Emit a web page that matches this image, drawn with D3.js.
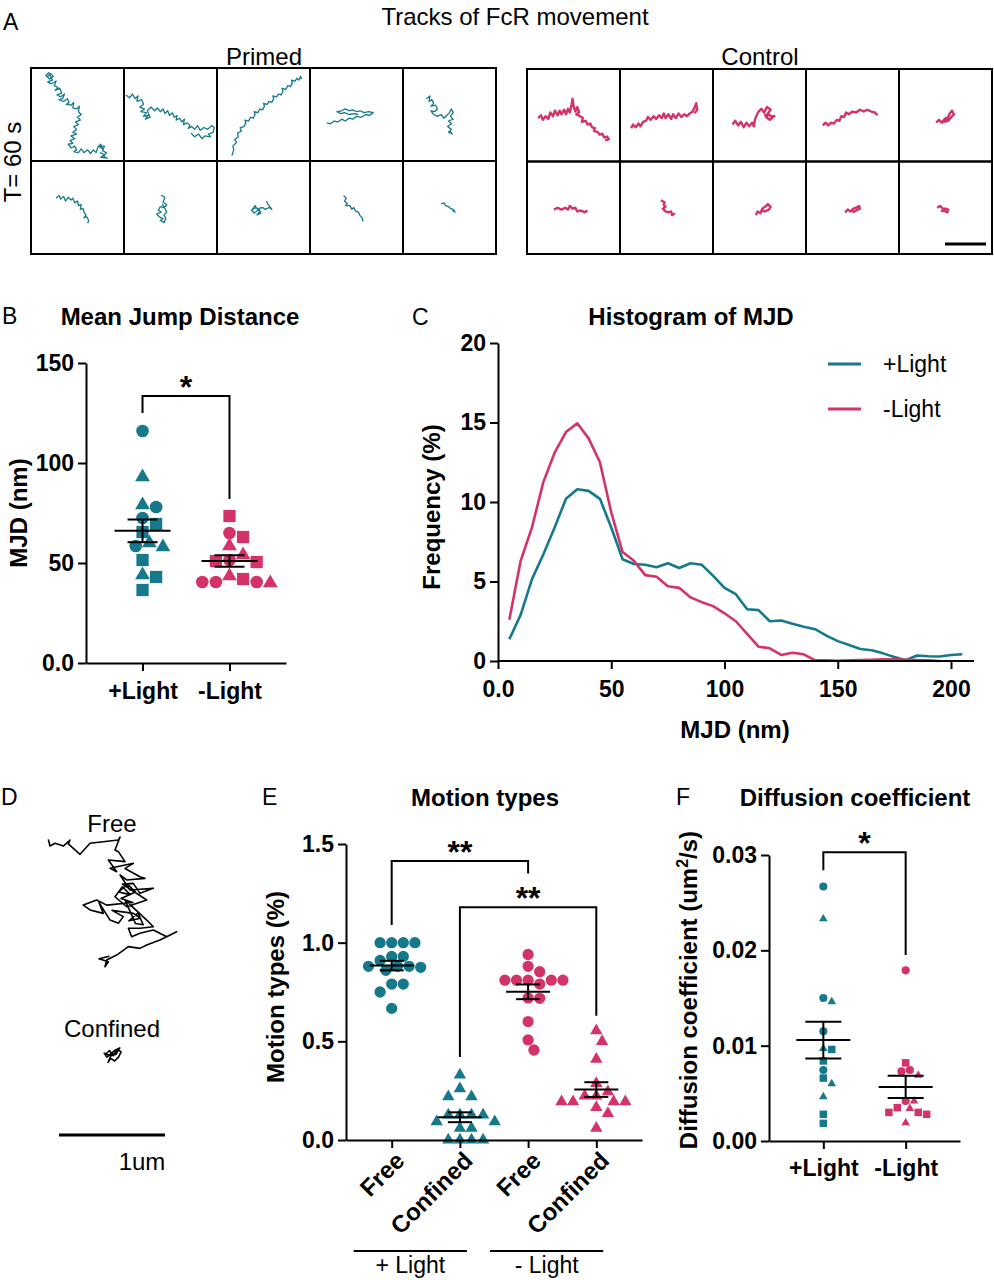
<!DOCTYPE html>
<html>
<head>
<meta charset="utf-8">
<script src="https://cdn.jsdelivr.net/npm/d3@7"></script>
<style>
  body { margin: 0; background: #fff; }
  svg { display: block; }
  text { font-family: "Liberation Sans", Arial, sans-serif; fill: #000; }
</style>
</head>
<body>
<div id="fig"></div>
<script>
const teal = "#16798b";
const pink = "#d4336a";

// ---- A: example tracks, cell units 0-100 ----
const primedTracks = [
  "17,10 21,6 24,9 20,12 16,8 19,5 23,13 18,15 22,17 27,14 25,19 29,21 26,24 31,22 33,27 28,29 32,31 36,28 34,33 30,34 35,36 39,33 41,37 38,39 43,40 46,37 45,43 49,44 52,41 51,47 54,50 50,53 53,56 48,58 51,61 46,63 49,66 45,69 49,71 43,73 47,76 42,78 45,81 40,82 43,86 47,84 49,88 46,90 51,91 54,87 57,91 61,88 64,92 67,88 70,91 72,85 75,82 77,87 73,84 79,84 77,89 81,91 78,95 82,97 75,96 79,93 74,91",
  "2,29 6,32 9,28 12,33 15,30 14,36 19,34 21,39 17,42 22,44 18,47 24,48 21,52 26,51 23,55 28,53 25,46 29,42 33,46 36,43 39,47 42,44 44,49 47,46 49,51 52,48 54,53 57,51 56,56 60,54 62,58 65,55 64,61 68,59 71,62 69,65 73,63 76,66 79,62 82,67 86,64 90,66 94,62 97,64 96,69 91,71 93,74 87,73 84,76 80,71 76,74 72,70",
  "16,94 18,88 17,84 21,80 19,77 23,74 22,70 26,68 25,64 29,63 31,59 30,56 34,57 36,53 39,54 41,50 40,47 44,48 46,44 49,45 51,41 50,38 54,39 56,36 59,37 61,33 60,30 64,31 66,28 69,29 71,25 70,22 74,23 76,19 79,20 81,16 80,13 84,14 86,11 88,13 90,9 91,12",
  "18,59 22,60 26,57 30,58 34,55 38,57 42,54 46,55 50,52 55,53 60,50 64,51 68,48 63,47 58,48 54,46 50,47 46,45 42,46 38,44 34,46 29,47 33,49 37,48 42,50 47,49 52,50",
  "25,33 29,30 28,36 31,34 33,38 30,41 35,40 37,44 34,47 30,46 33,50 37,52 41,50 44,54 47,51 50,48 52,44 54,48 51,52 54,55 49,57 52,60 48,63 52,66 49,69 53,71 50,67",
  "27,40 30,37 32,41 35,38 37,43 40,39 43,42 45,40 47,45 50,43 51,48 54,47 53,52 56,51 57,55 59,58 57,61 60,60 62,64 61,67",
  "40,37 44,39 42,44 46,47 43,50 39,49 37,53 40,55 35,57 38,60 42,62 39,64 43,66 45,62 43,58 46,55 44,51 41,46",
  "38,52 41,48 44,53 40,56 37,53 42,50 46,54 43,58 47,56 45,51 49,50 52,52 56,50 59,52 55,47 53,43",
  "36,37 39,40 37,43 40,46 38,48 43,48 45,52 47,50 49,54 52,55 54,59 56,61 57,65",
  "41,46 44,45 46,48 49,49 51,51 54,52 56,55 53,53"
];
const controlTracks = [
  "12,53 15,50 17,55 20,51 23,54 25,47 28,51 30,45 33,50 35,45 37,49 40,44 42,49 44,43 46,47 48,38 49,32 50,40 52,46 54,41 56,47 53,49 57,51 60,53 59,57 63,56 65,60 68,59 70,63 73,64 72,67 76,68 78,71 81,70 83,74 86,73 88,76 84,77",
  "12,64 14,60 17,63 20,59 22,62 25,57 28,56 30,52 33,55 36,51 39,54 42,50 45,53 47,48 49,53 52,49 55,54 57,49 60,53 63,48 66,52 69,49 72,51 75,48 78,46 80,42 82,37 83,44 80,48",
  "21,60 24,56 27,61 30,57 33,63 36,58 39,62 42,58 44,62 45,55 47,50 49,46 52,43 55,47 58,41 62,44 59,48 62,51 66,51 61,55 57,52 60,49 55,50",
  "18,61 21,58 24,61 27,58 30,59 33,55 36,56 38,51 41,52 43,47 46,49 50,46 54,47 58,44 62,46 66,44 70,46 74,47 77,50",
  "40,58 43,55 46,58 49,54 52,54 54,49 57,45 59,49 56,52 53,56 48,57 51,52",
  "29,52 33,50 37,52 41,50 44,52 46,48 49,51 52,50 54,54 58,53 62,55 65,53",
  "44,42 48,44 47,47 49,49 46,51 49,54 52,55 55,54 56,58 59,56",
  "46,58 48,54 51,56 53,51 56,49 59,46 62,49 60,52 56,54 52,53",
  "42,55 45,52 48,54 51,51 54,50 57,48 58,51 54,53 50,55",
  "41,50 44,48 47,51 50,51 53,52 52,55 48,53 45,54"
];

// ---- B: mean jump distance (nm), replicate 0 circle, 1 square, 2 triangle ----
const mjdPlus = [116, 93, 79, 78, 72.5, 65.5, 69.5, 58, 60, 58.5, 51.5, 44, 43, 36.5];
const mjdPlusRep = [0, 2, 2, 0, 0, 1, 1, 2, 2, 0, 1, 2, 1, 1];
const mjdMinus = [73.5, 63, 65, 58.5, 51, 51.5, 50.5, 54, 40, 43.5, 42, 40.5, 40.5, 40.5];
const mjdMinusRep = [1, 1, 0, 2, 1, 0, 1, 2, 2, 2, 1, 0, 0, 0];
const lightLabels = ["+Light", "-Light"];

// ---- C: histogram of MJD ----
const binsPlus = [5, 10, 15, 20, 25, 30, 35, 40, 45, 50, 55, 60, 65, 70, 75, 80, 85, 90, 95, 100,
  105, 110, 115, 120, 125, 130, 135, 140, 145, 150, 155, 160, 165, 170, 175, 180, 185, 190, 195, 200, 205];
const freqPlus = [1.37, 2.9, 5.15, 6.7, 8.4, 10.2, 10.8, 10.7, 10.2, 8.4, 6.4, 6.1, 6.05, 5.9, 6.15, 5.85, 6.15, 6.05, 5.35, 4.6,
  4.2, 3.25, 3.2, 2.5, 2.55, 2.35, 2.15, 2.0, 1.6, 1.25, 1.0, 0.75, 0.68, 0.48, 0.25, 0.05, 0.35, 0.3, 0.28, 0.38, 0.42];
const binsMinus = [5, 10, 15, 20, 25, 30, 35, 40, 45, 50, 55, 60, 65, 70, 75, 80, 85, 90, 95, 100,
  105, 110, 115, 120, 125, 130, 135, 140, 145, 150, 155, 160, 165, 170, 175, 180, 185, 190, 195];
const freqMinus = [2.6, 6.3, 8.4, 11.25, 13.1, 14.4, 14.95, 14.0, 12.5, 9.35, 6.85, 6.3, 5.4, 5.3, 4.7, 4.6, 4.0, 3.7, 3.45, 3.0,
  2.5, 1.7, 0.9, 0.8, 0.38, 0.52, 0.42, 0.04, 0.04, 0.02, 0.04, 0.06, 0.08, 0.1, 0.1, 0.08, 0.06, 0.04, 0];
const mjdTicks = [0, 50, 100, 150, 200];

// ---- D: example free / confined track ----
const freeTrack = "1,1.8 2.3,6.9 6.2,4.8 12.6,6.9 17.7,2.3 16.4,5.3 25.4,13.2 33.1,4.8 54.9,2.3 56.2,0 52.3,9.9 54.9,11.2 60,18.8 47.2,17.6 53.6,26.5 48.5,23.9 66.4,20.1 60,24 71.5,30.3 75.4,31.6 61.3,32.8 56.2,29 63.8,40.5 81.8,39.2 71.5,43 66.4,35.4 58,36 76.7,48.1 61.3,53.2 52.3,45.6 58,38 64,44 55,42 62,36 68,42 57,47 66,50 45.9,52 38.2,48.1 27.9,52 33.1,55.7 43.3,58.3 40,50 48.5,63.4 54.9,65.9 58.7,60.8 50,56 66.4,58.3 72,62 63,64 70,58 74,67 68,66 60,48 76.7,63.4 81.8,68.5 71.5,69.7 62.6,69.7 65.1,76.1 71.5,73.5 81.8,71 92.1,76.1 99.7,72.3 86.9,78.6 76.7,82.4 71.5,85 62.6,83.7 53.6,90.1 45.9,93.9 44.6,99 47.2,95.2 40,93 48,91";
const confinedTrack = "45,166 48,163 51,167 54,162 57,164 55,168 52,171 49,169 47,172 50,165 53,166 56,161 52,163 46,168 44,165 49,167 54,165";

// ---- E: motion types ----
const motionCats = ["Free", "Confined", "Free", "Confined"];
const motionGroups = ["+ Light", "- Light"];
const freePlus = [1.0, 1.0, 1.0, 1.0, 0.93, 0.93, 0.91, 0.88, 0.88, 0.88, 0.875, 0.86, 0.79, 0.79, 0.75, 0.667];
const confPlus = [0.33, 0.26, 0.22, 0.22, 0.127, 0.127, 0.127, 0.127, 0.093, 0.093, 0.06, 0.06, 0, 0, 0, 0];
const freeMinus = [0.94, 0.88, 0.853, 0.81, 0.81, 0.81, 0.81, 0.81, 0.79, 0.72, 0.718, 0.6, 0.507, 0.456];
const confMinus = [0.554, 0.5, 0.41, 0.287, 0.245, 0.223, 0.223, 0.194, 0.194, 0.194, 0.194, 0.165, 0.135, 0.06];

// ---- F: diffusion coefficient (um^2/s) ----
const dPlus = [0.0267, 0.0233, 0.0146, 0.0150, 0.0115, 0.0096, 0.0097, 0.0084, 0.00745, 0.0066, 0.0060, 0.00465, 0.0028, 0.00185];
const dPlusRep = [0, 2, 2, 0, 0, 1, 2, 1, 0, 1, 2, 2, 1, 1];
const dMinus = [0.0179, 0.0082, 0.0069, 0.0073, 0.00745, 0.0042, 0.0042, 0.0035, 0.0030, 0.0034, 0.0028, 0.0030, 0.0019];
const dMinusRep = [0, 1, 2, 0, 0, 0, 2, 1, 1, 2, 1, 1, 2];

// ================================================================
const svg = d3.select("#fig").append("svg").attr("width", 994).attr("height", 1280);
const parse = s => s.trim().split(/\s+/).map(p => p.split(",").map(Number));
const shapes = [d3.symbolCircle, d3.symbolSquare, d3.symbolTriangle];

function label(x, y, txt, size, weight, anchor) {
  return svg.append("text").attr("x", x).attr("y", y)
    .attr("font-size", size).attr("font-weight", weight || "normal")
    .attr("text-anchor", anchor || "start").text(txt);
}

// ---------- panel A ----------
label(3, 30, "A", 23);
label(515, 25, "Tracks of FcR movement", 24, "normal", "middle");
label(264, 65, "Primed", 24, "normal", "middle");
label(760, 65, "Control", 24, "normal", "middle");
svg.append("text").attr("transform", "translate(21,162) rotate(-90)")
  .attr("font-size", 24).attr("text-anchor", "middle").text("T= 60 s");

function trackGrid(tracks, x0, y0, cw, ch, color, sw) {
  const g = svg.append("g");
  tracks.forEach((t, i) => {
    const cx = x0 + (i % 5) * cw, cy = y0 + Math.floor(i / 5) * ch;
    const sx = d3.scaleLinear([0, 100], [cx, cx + cw]);
    const sy = d3.scaleLinear([0, 100], [cy, cy + ch]);
    const line = d3.line().x(d => sx(d[0])).y(d => sy(d[1]));
    g.append("path").attr("d", line(parse(t))).attr("fill", "none")
      .attr("stroke", color).attr("stroke-width", sw).attr("stroke-linejoin", "round");
  });
  for (let c = 0; c < 5; c++) for (let r = 0; r < 2; r++) {
    g.append("rect").attr("x", x0 + c * cw).attr("y", y0 + r * ch)
      .attr("width", cw).attr("height", ch)
      .attr("fill", "none").attr("stroke", "#000").attr("stroke-width", 2);
  }
  return g;
}
trackGrid(primedTracks, 31, 68, 93, 93, teal, 1.3);
const ctl = trackGrid(controlTracks, 527, 69, 93, 92.5, pink, 2.4);
ctl.append("line").attr("x1", 945).attr("x2", 986).attr("y1", 244).attr("y2", 244)
  .attr("stroke", "#000").attr("stroke-width", 3);

// ---------- dot plot helpers ----------
function swarm(values, y, r) {
  const order = d3.range(values.length).sort((a, b) => values[b] - values[a]);
  const placed = [], dx = [];
  order.forEach(i => {
    const yi = y(values[i]);
    for (let k = 0; k < 60; k++) {
      const off = (k % 2 ? 1 : -1) * Math.ceil(k / 2) * r;
      const ok = placed.every(p => (p[0] - off) ** 2 + (p[1] - yi) ** 2 >= (2 * r * 0.95) ** 2);
      if (ok) { placed.push([off, yi]); dx[i] = off; break; }
    }
  });
  return dx;
}

function styleAxis(ax) {
  ax.selectAll("path,line").attr("stroke", "#000").attr("stroke-width", 2);
  ax.selectAll("text").attr("font-size", 23).attr("font-weight", "bold")
    .attr("font-family", '"Liberation Sans", Arial, sans-serif').attr("fill", "#000");
  return ax;
}
function yAxis(g, x, y, ticks, fmt) {
  return styleAxis(g.append("g").attr("transform", `translate(${x},0)`)
    .call(d3.axisLeft(y).tickValues(ticks).tickFormat(fmt).tickSize(8).tickSizeOuter(0).tickPadding(4)));
}
function xAxis(g, y0, axis, pad) {
  return styleAxis(g.append("g").attr("transform", `translate(0,${y0})`)
    .call(axis.tickSize(8).tickSizeOuter(0).tickPadding(pad)));
}

function dots(g, xc, values, reps, y, color, r, sizes, meanW, semW) {
  const dx = swarm(values, y, r);
  g.selectAll(null).data(values).enter().append("path")
    .attr("transform", (d, i) => `translate(${xc + dx[i]},${y(d)})`)
    .attr("d", (d, i) => d3.symbol().type(shapes[reps[i]]).size(sizes[reps[i]])())
    .attr("fill", color);
  const m = d3.mean(values), sem = d3.deviation(values) / Math.sqrt(values.length);
  const bars = g.append("g").attr("stroke", "#000").attr("stroke-width", 2);
  bars.append("line").attr("x1", xc - meanW).attr("x2", xc + meanW).attr("y1", y(m)).attr("y2", y(m));
  [m - sem, m + sem].forEach(v => bars.append("line").attr("x1", xc - semW).attr("x2", xc + semW)
    .attr("y1", y(v)).attr("y2", y(v)));
  bars.append("line").attr("x1", xc).attr("x2", xc).attr("y1", y(m - sem)).attr("y2", y(m + sem));
}

function bracket(g, x1, x2, yTop, yL, yR, stars) {
  g.append("path").attr("d", `M${x1},${yL}V${yTop}H${x2}V${yR}`)
    .attr("fill", "none").attr("stroke", "#000").attr("stroke-width", 2);
  g.append("text").attr("x", (x1 + x2) / 2).attr("y", yTop + 2).attr("text-anchor", "middle")
    .attr("font-size", 32).attr("font-weight", "bold").text(stars);
}

const rotLabel = (g, x, y, txt) => g.append("text")
  .attr("transform", `translate(${x},${y}) rotate(-90)`)
  .attr("font-size", 24).attr("font-weight", "bold").attr("text-anchor", "middle").text(txt);

// ---------- panel B ----------
label(2, 324, "B", 23);
label(180, 325, "Mean Jump Distance", 24, "bold", "middle");
{
  const g = svg.append("g");
  const y = d3.scaleLinear([0, 150], [663, 363]);
  const x = d3.scalePoint(lightLabels, [86, 286]).padding(0.65);
  bracket(g, x("+Light"), x("-Light"), y(133.5), y(125), y(82), "*");
  dots(g, x("+Light"), mjdPlus, mjdPlusRep, y, teal, 6.8, [125, 150, 95], 28, 15);
  dots(g, x("-Light"), mjdMinus, mjdMinusRep, y, pink, 6.8, [125, 150, 95], 28, 15);
  yAxis(g, 86, y, [0, 50, 100, 150], d => d === 0 ? "0.0" : d);
  xAxis(g, 663, d3.axisBottom(x), 12);
  rotLabel(g, 27, 513, "MJD (nm)");
}

// ---------- panel C ----------
label(412, 325, "C", 23);
label(691, 325, "Histogram of MJD", 24, "bold", "middle");
{
  const g = svg.append("g");
  const y = d3.scaleLinear([0, 20], [661, 343]);
  const x = d3.scaleLinear([0, 200], [498, 951]);
  const line = d3.line().x(d => x(d[0])).y(d => y(d[1]));
  g.append("path").attr("d", line(d3.zip(binsPlus, freqPlus))).attr("fill", "none")
    .attr("stroke", teal).attr("stroke-width", 2.6).attr("stroke-linejoin", "round");
  g.append("path").attr("d", line(d3.zip(binsMinus, freqMinus))).attr("fill", "none")
    .attr("stroke", pink).attr("stroke-width", 2.6).attr("stroke-linejoin", "round");
  yAxis(g, 498, y, [0, 5, 10, 15, 20], d => d);
  const ax = xAxis(g, 661, d3.axisBottom(x).tickValues(mjdTicks).tickFormat(d => d === 0 ? "0.0" : d), 12);
  ax.select(".domain").attr("d", `M${x(0)},0H974`);
  rotLabel(g, 440, 507, "Frequency (%)");
  g.append("text").attr("x", 735).attr("y", 738).attr("text-anchor", "middle")
    .attr("font-size", 24).attr("font-weight", "bold").text("MJD (nm)");
  [["+Light", teal, 364], ["-Light", pink, 409]].forEach(([t, c, ly]) => {
    g.append("line").attr("x1", 828).attr("x2", 861).attr("y1", ly).attr("y2", ly)
      .attr("stroke", c).attr("stroke-width", 3);
    g.append("text").attr("x", 883).attr("y", ly + 8).attr("font-size", 23).text(t);
  });
}

// ---------- panel D ----------
label(1, 805, "D", 23);
{
  const g = svg.append("g");
  const sx = d3.scaleLinear([0, 100], [47, 177]);
  const sy = d3.scaleLinear([0, 100], [837, 968]);
  const line = d3.line().x(d => sx(d[0])).y(d => sy(d[1]));
  [freeTrack, confinedTrack].forEach(t => g.append("path").attr("d", line(parse(t)))
    .attr("fill", "none").attr("stroke", "#000").attr("stroke-width", 1.6).attr("stroke-linejoin", "round"));
  label(112, 832, "Free", 24, "normal", "middle");
  label(112, 1037, "Confined", 24, "normal", "middle");
  g.append("line").attr("x1", 59).attr("x2", 165).attr("y1", 1135).attr("y2", 1135)
    .attr("stroke", "#000").attr("stroke-width", 3);
  label(142, 1170, "1um", 24, "normal", "middle");
}

// ---------- panel E ----------
label(262, 805, "E", 23);
label(485, 806, "Motion types", 24, "bold", "middle");
{
  const g = svg.append("g");
  const y = d3.scaleLinear([0, 1.5], [1140, 844]);
  const x = d3.scalePoint(d3.range(4), [346, 642]).padding(0.67);
  bracket(g, x(0), x(2), y(1.414), y(1.09), y(1.35), "**");
  bracket(g, x(1), x(3), y(1.18), y(0.42), y(0.63), "**");
  const sz = [100, 0, 66];
  dots(g, x(0), freePlus, freePlus.map(() => 0), y, teal, 5.8, sz, 22, 12);
  dots(g, x(1), confPlus, confPlus.map(() => 2), y, teal, 5.8, sz, 22, 12);
  dots(g, x(2), freeMinus, freeMinus.map(() => 0), y, pink, 5.8, sz, 22, 12);
  dots(g, x(3), confMinus, confMinus.map(() => 2), y, pink, 5.8, sz, 22, 12);
  yAxis(g, 346, y, [0, 0.5, 1.0, 1.5], d3.format(".1f"));
  const ax = xAxis(g, 1140, d3.axisBottom(x).tickFormat(() => ""), 0);
  ax.selectAll("text").remove();
  motionCats.forEach((c, i) => g.append("text")
    .attr("transform", `translate(${x(i) + 2},${1150}) rotate(-45)`)
    .attr("dy", "0.72em").attr("text-anchor", "end")
    .attr("font-size", 24).attr("font-weight", "bold").text(c));
  motionGroups.forEach((t, k) => {
    const x1 = x(2 * k) - 38, x2 = x(2 * k + 1) + 7;
    g.append("line").attr("x1", x1).attr("x2", x2).attr("y1", 1251).attr("y2", 1251)
      .attr("stroke", "#000").attr("stroke-width", 2);
    g.append("text").attr("x", (x1 + x2) / 2).attr("y", 1273).attr("text-anchor", "middle")
      .attr("font-size", 23).text(t);
  });
  rotLabel(g, 284, 987, "Motion types (%)");
}

// ---------- panel F ----------
label(676, 805, "F", 23);
label(855, 806, "Diffusion coefficient", 24, "bold", "middle");
{
  const g = svg.append("g");
  const y = d3.scaleLinear([0, 0.03], [1141, 855]);
  const x = d3.scalePoint(lightLabels, [769, 960]).padding(0.66);
  bracket(g, x("+Light"), x("-Light"), y(0.0303), y(0.0284), y(0.0195), "*");
  dots(g, x("+Light"), dPlus, dPlusRep, y, teal, 4.2, [52, 56, 32], 27, 18);
  dots(g, x("-Light"), dMinus, dMinusRep, y, pink, 4.2, [52, 56, 32], 27, 18);
  yAxis(g, 769, y, [0, 0.01, 0.02, 0.03], d3.format(".2f"));
  xAxis(g, 1141, d3.axisBottom(x), 11);
  const t = g.append("text").attr("transform", "translate(697,990) rotate(-90)")
    .attr("font-size", 24).attr("font-weight", "bold").attr("text-anchor", "middle");
  t.append("tspan").text("Diffusion coefficient (um");
  t.append("tspan").attr("font-size", 16).attr("dy", -9).text("2");
  t.append("tspan").attr("dy", 9).text("/s)");
}
</script>
</body>
</html>
